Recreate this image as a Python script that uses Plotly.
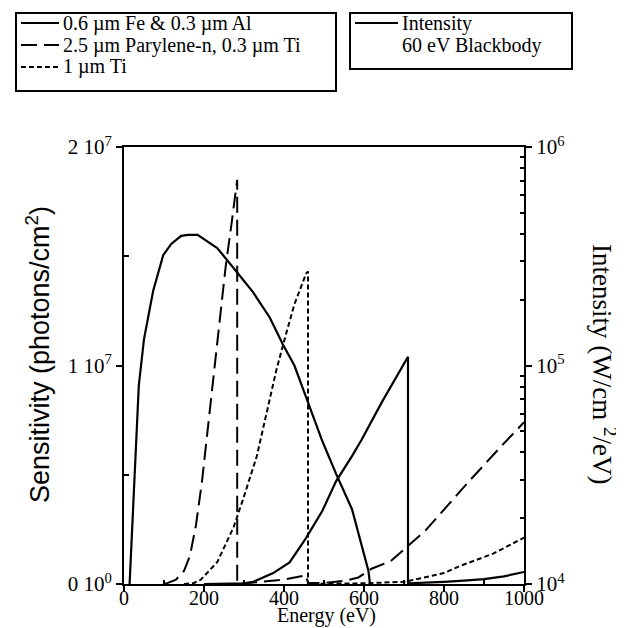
import plotly.graph_objects as go

# ---- data ----
energy_fe = [200, 250, 300, 323, 373, 414, 455, 496, 530, 570, 594, 644, 677, 710, 710, 750, 800, 850, 900, 950, 1000]
sens_fe = [0, 0, 0.03e6, 0.1e6, 0.5e6, 0.99e6, 2.1e6, 3.35e6, 4.7e6, 5.85e6, 6.6e6, 8.3e6, 9.35e6, 1.04e7,
           0.03e6, 0.05e6, 0.1e6, 0.15e6, 0.22e6, 0.35e6, 0.55e6]

energy_par = [100, 110, 130, 150, 165, 180, 195, 210, 229, 241, 254, 270, 283, 283, 300, 350, 400, 455, 460,
              500, 554, 586, 619, 667, 709, 751, 783, 865, 948, 1000]
sens_par = [0, 0.05e6, 0.2e6, 0.6e6, 1.3e6, 2.7e6, 4.7e6, 7.2e6, 1.01e7, 1.24e7, 1.45e7, 1.665e7, 1.85e7, 0,
            0.03e6, 0.1e6, 0.2e6, 0.4e6, 0.05e6, 0.05e6, 0.15e6, 0.3e6, 0.7e6, 1.05e6, 1.72e6, 2.4e6, 3.05e6,
            4.75e6, 6.4e6, 7.4e6]

energy_ti = [150, 175, 192, 233, 274, 299, 332, 355, 381, 406, 426, 455, 460, 460, 500, 600, 650, 700, 742,
             800, 841, 923, 1000]
sens_ti = [0, 0.05e6, 0.2e6, 1.0e6, 2.6e6, 3.95e6, 5.85e6, 7.75e6, 9.8e6, 1.15e7, 1.28e7, 1.42e7, 1.43e7, 0,
           0.02e6, 0.03e6, 0.05e6, 0.1e6, 0.26e6, 0.5e6, 0.83e6, 1.39e6, 2.12e6]

energy_bb = [14, 18, 25, 30, 37, 50, 73, 98, 118, 143, 160, 184, 209, 233, 282, 323, 365, 397, 426, 460,
             496, 530, 570, 611, 615]
intensity_bb = [1.0e4, 1.45e4, 2.88e4, 4.8e4, 8.1e4, 1.32e5, 2.2e5, 3.2e5, 3.6e5, 3.92e5, 3.96e5, 3.96e5,
                3.7e5, 3.45e5, 2.68e5, 2.16e5, 1.65e5, 1.25e5, 1.0e5, 6.8e4, 4.5e4, 3.2e4, 2.2e4, 1.15e4, 1.0e4]

legend_box1 = ["0.6 \u00b5m Fe & 0.3 \u00b5m Al", "2.5 \u00b5m Parylene-n, 0.3 \u00b5m Ti", "1 \u00b5m Ti"]
legend_box2 = ["Intensity", "60 eV Blackbody"]

x_ticks = [0, 200, 400, 600, 800, 1000]
y_ticks = [0, 1e7, 2e7]
y_ticktext = ["0 10<sup>0</sup>", "1 10<sup>7</sup>", "2 10<sup>7</sup>"]
y2_ticks = [1e4, 1e5, 1e6]
y2_ticktext = ["10<sup>4</sup>", "10<sup>5</sup>", "10<sup>6</sup>"]
y2_minor = [2e4, 3e4, 4e4, 5e4, 6e4, 7e4, 8e4, 9e4, 2e5, 3e5, 4e5, 5e5, 6e5, 7e5, 8e5, 9e5]

SERIF = "Liberation Serif"
SANS = "Liberation Sans"
W_PX, H_PX = 624, 628
L, R, T, B = 116, 516, 139, 576  # plot area in pixels


def px(x):
    return (x - L) / (R - L)


def py(y):
    return (B - y) / (B - T)


styles = [dict(color="black", width=2.2),
          dict(color="black", width=2, dash="16px,7px"),
          dict(color="black", width=2, dash="5px,3px")]

fig = go.Figure()
fig.add_trace(go.Scatter(x=energy_fe, y=sens_fe, mode="lines", name=legend_box1[0], line=styles[0],
                         showlegend=False))
fig.add_trace(go.Scatter(x=energy_par, y=sens_par, mode="lines", name=legend_box1[1], line=styles[1],
                         showlegend=False))
fig.add_trace(go.Scatter(x=energy_ti, y=sens_ti, mode="lines", name=legend_box1[2], line=styles[2],
                         showlegend=False))
fig.add_trace(go.Scatter(x=energy_bb, y=intensity_bb, mode="lines", name="Intensity 60 eV Blackbody",
                         yaxis="y2", line=dict(color="black", width=2.2), showlegend=False))

axis_common = dict(showline=True, linecolor="black", linewidth=2, showgrid=False, zeroline=False,
                   tickcolor="black", tickwidth=2, ticks="outside", ticklen=6)

shapes = []
annotations = []

# legend box 1
shapes.append(dict(type="rect", xref="paper", yref="paper", x0=px(8), x1=px(328), y0=py(5), y1=py(83),
                   line=dict(color="black", width=2), fillcolor="white", layer="above"))
rows1 = [15, 37, 59]
for i, txt in enumerate(legend_box1):
    shapes.append(dict(type="line", xref="paper", yref="paper", x0=px(13), x1=px(51), y0=py(rows1[i]),
                       y1=py(rows1[i]), line=styles[i], layer="above"))
    annotations.append(dict(text=txt, x=px(53), y=py(rows1[i]), xref="paper", yref="paper",
                            xanchor="left", yanchor="middle", showarrow=False,
                            font=dict(family=SERIF, size=20)))

# legend box 2
shapes.append(dict(type="rect", xref="paper", yref="paper", x0=px(342), x1=px(564), y0=py(5), y1=py(61),
                   line=dict(color="black", width=2), fillcolor="white", layer="above"))
shapes.append(dict(type="line", xref="paper", yref="paper", x0=px(347), x1=px(390), y0=py(15), y1=py(15),
                   line=dict(color="black", width=2.2), layer="above"))
annotations.append(dict(text=legend_box2[0], x=px(392), y=py(15), xref="paper", yref="paper",
                        xanchor="left", yanchor="middle", showarrow=False, font=dict(family=SERIF, size=20)))
annotations.append(dict(text=legend_box2[1], x=px(392), y=py(38), xref="paper", yref="paper",
                        xanchor="left", yanchor="middle", showarrow=False, font=dict(family=SERIF, size=20)))

# axis titles
annotations.append(dict(text="Energy (eV)", x=px(318), y=py(607), xref="paper", yref="paper",
                        xanchor="center", yanchor="middle", showarrow=False, font=dict(family=SERIF, size=20)))
annotations.append(dict(text="Sensitivity (photons/cm<sup>2</sup>)", x=px(30), y=py(347), xref="paper",
                        yref="paper", textangle=-90, xanchor="center", yanchor="middle", showarrow=False,
                        font=dict(family=SANS, size=27)))
annotations.append(dict(text="Intensity (W/cm <sup>2</sup>/eV)", x=px(596), y=py(356), xref="paper",
                        yref="paper", textangle=90, xanchor="center", yanchor="middle", showarrow=False,
                        font=dict(family=SERIF, size=27)))

fig.update_layout(
    width=W_PX, height=H_PX,
    margin=dict(l=L, r=W_PX - R, t=T, b=H_PX - B, autoexpand=False),
    paper_bgcolor="white", plot_bgcolor="white",
    font=dict(family=SERIF, size=21, color="black"),
    showlegend=False,
    xaxis=dict(range=[0, 1000], tickvals=x_ticks, mirror=True, ticklabelstandoff=-11,
               tickfont=dict(size=20),
               minor=dict(ticks="inside", ticklen=4, tickvals=[100, 300, 500, 700, 900], tickcolor="black"),
               **axis_common),
    yaxis=dict(range=[0, 2e7], tickvals=y_ticks, ticktext=y_ticktext,
               minor=dict(ticks="inside", ticklen=5, tickvals=[0.5e7, 1.5e7], tickcolor="black"),
               **axis_common),
    yaxis2=dict(type="log", range=[4, 6], overlaying="y", side="right", tickvals=y2_ticks,
                ticktext=y2_ticktext,
                minor=dict(ticks="inside", ticklen=4, tickvals=y2_minor, tickcolor="black"),
                **axis_common),
    shapes=shapes,
    annotations=annotations,
)

fig.write_html("out.html")
